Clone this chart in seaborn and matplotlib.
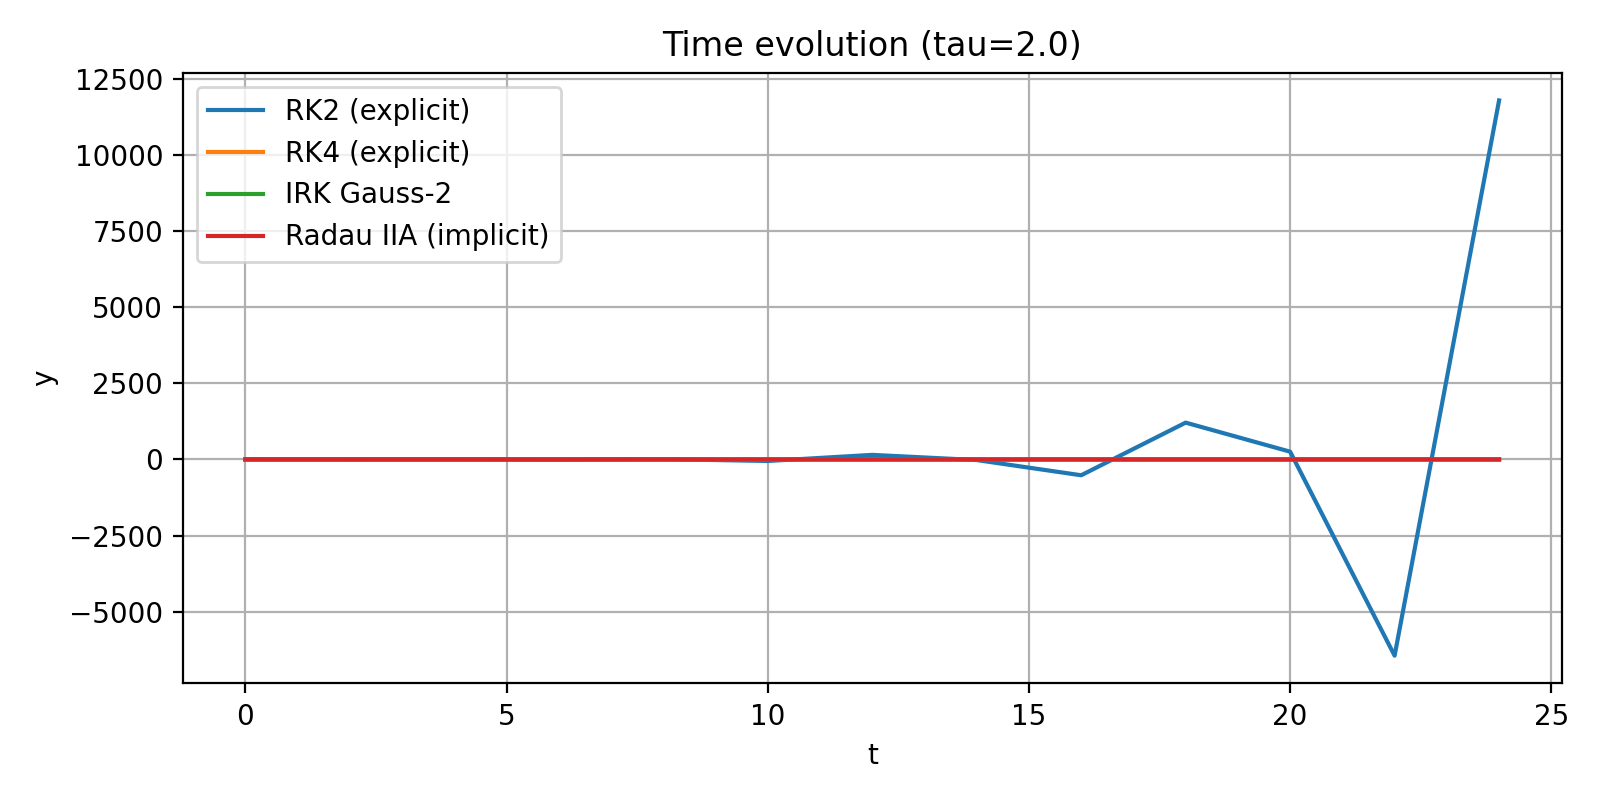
import numpy as np
import pandas as pd
import matplotlib
matplotlib.use("Agg")
import matplotlib.pyplot as plt
import seaborn as sns

# time grid, tau = 2.0
t = [0, 2, 4, 6, 8, 10, 12, 14, 16, 18, 20, 22, 24]

# values
rk2 = [1, -2, 3, -6, 10, -50, 150, -20, -520, 1210, 255, -6450, 11800]
rk4 = [1, 0.4, 0.2, 0.1, 0.05, 0.02, 0.01, 0.0, 0.0, 0.0, 0.0, 0.0, 0.0]
gauss = [1, 0.3, 0.1, 0.03, 0.01, 0.0, 0.0, 0.0, 0.0, 0.0, 0.0, 0.0, 0.0]
radau = [1, 0.2, 0.05, 0.01, 0.0, 0.0, 0.0, 0.0, 0.0, 0.0, 0.0, 0.0, 0.0]

labels = ["RK2 (explicit)", "RK4 (explicit)", "IRK Gauss-2", "Radau IIA (implicit)"]

df = pd.DataFrame({
    "t": t * 4,
    "y": rk2 + rk4 + gauss + radau,
    "method": [lab for lab in labels for _ in t],
})

fig, ax = plt.subplots(figsize=(8, 4), dpi=200)
sns.lineplot(data=df, x="t", y="y", hue="method", hue_order=labels,
             palette=["#1f77b4", "#ff7f0e", "#2ca02c", "#d62728"], ax=ax)
ax.set_title("Time evolution (tau=2.0)")
ax.set_xlabel("t")
ax.set_ylabel("y")
ax.grid(True)
ax.legend(loc="upper left")
plt.tight_layout()
plt.savefig("out.png", dpi=200)
